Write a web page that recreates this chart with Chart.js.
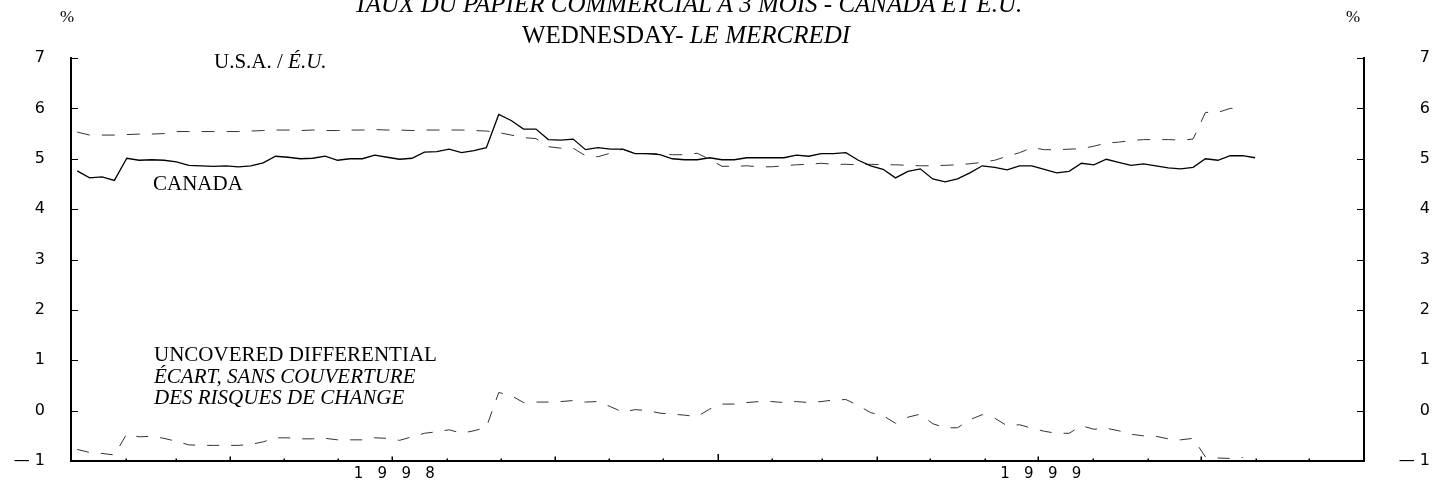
<!DOCTYPE html>
<html><head><meta charset="utf-8">
<script src="https://cdn.jsdelivr.net/npm/chart.js@4.4.1/dist/chart.umd.min.js"></script>
<style>
html,body{margin:0;padding:0;background:#fff;}
#wrap{position:relative;width:1439px;height:482px;overflow:hidden;background:#fff;}
canvas{position:absolute;left:0;top:0;}
.t{position:absolute;font-family:"Liberation Serif","Times New Roman",serif;color:#000;white-space:nowrap;line-height:1;}
</style></head><body>
<div id="wrap">
<canvas id="c" width="1439" height="482"></canvas>
<div class="t" style="font-size:25px;font-style:italic;top:-9px;left:0;width:1376px;text-align:center">TAUX DU PAPIER COMMERCIAL À 3 MOIS - CANADA ET É.U.</div>
<div class="t" style="font-size:25px;top:22px;left:0;width:1372px;text-align:center">WEDNESDAY- <i>LE MERCREDI</i></div>
<div class="t" style="font-size:17px;top:8px;left:60px">%</div>
<div class="t" style="font-size:17px;top:8px;left:1346px">%</div>
<div class="t" style="font-size:21px;top:51px;left:214px">U.S.A. / <i>É.U.</i></div>
<div class="t" style="font-size:21px;top:173px;left:153px">CANADA</div>
<div class="t" style="font-size:21px;top:344px;left:154px">UNCOVERED DIFFERENTIAL</div>
<div class="t" style="font-size:21px;font-style:italic;top:366px;left:154px">ÉCART, SANS COUVERTURE</div>
<div class="t" style="font-size:21px;font-style:italic;top:387px;left:154px">DES RISQUES DE CHANGE</div>
</div>
<script>
// Weekly (Wednesday) observations, first one in the first week of January 1998
const firstDay = 3.5;      // days after 1 Jan 1998 of the first observation
const weekStep = 7;
const canada = [4.76,4.62,4.64,4.57,5.01,4.97,4.98,4.97,4.94,4.87,
4.86,4.85,4.86,4.84,4.86,4.92,5.05,5.03,5.00,5.01,
5.05,4.97,5.00,5.00,5.07,5.03,4.99,5.01,5.13,5.14,
5.19,5.12,5.16,5.22,5.88,5.76,5.59,5.59,5.38,5.37,
5.39,5.18,5.22,5.19,5.19,5.10,5.10,5.08,5.00,4.98,
4.98,5.02,4.98,4.98,5.02,5.02,5.02,5.02,5.07,5.05,
5.10,5.10,5.12,4.97,4.86,4.79,4.62,4.75,4.80,4.60,
4.54,4.60,4.72,4.86,4.83,4.78,4.86,4.86,4.79,4.72,
4.75,4.91,4.88,4.99,4.93,4.87,4.90,4.86,4.82,4.80,
4.83,5.00,4.97,5.06,5.06,5.02];
const usa = [5.53,5.47,5.47,5.47,5.48,5.49,5.49,5.50,5.54,5.54,
5.54,5.54,5.54,5.54,5.55,5.56,5.57,5.57,5.56,5.57,
5.56,5.56,5.57,5.57,5.58,5.57,5.57,5.56,5.57,5.57,
5.57,5.57,5.56,5.55,5.52,5.47,5.42,5.40,5.24,5.21,
5.21,5.06,5.04,5.11,5.19,5.10,5.10,5.10,5.08,5.08,
5.11,4.99,4.85,4.85,4.86,4.84,4.84,4.86,4.88,4.89,
4.91,4.89,4.89,4.88,4.89,4.88,4.88,4.87,4.86,4.86,
4.87,4.88,4.90,4.93,4.97,5.05,5.12,5.22,5.18,5.18,
5.19,5.20,5.25,5.31,5.33,5.36,5.38,5.38,5.38,5.37,
5.39,5.92,5.92,6.00,5.99];
const differential = [-0.77,-0.83,-0.85,-0.88,-0.46,-0.52,-0.51,-0.55,-0.61,-0.68,
-0.69,-0.69,-0.69,-0.69,-0.67,-0.62,-0.54,-0.54,-0.56,-0.56,
-0.55,-0.58,-0.58,-0.58,-0.54,-0.55,-0.59,-0.52,-0.45,-0.42,
-0.38,-0.45,-0.40,-0.33,0.36,0.30,0.16,0.17,0.17,0.18,
0.20,0.17,0.18,0.08,-0.03,0.02,0.00,-0.05,-0.07,-0.09,
-0.12,0.03,0.13,0.13,0.16,0.18,0.18,0.16,0.18,0.16,
0.18,0.21,0.22,0.10,-0.04,-0.10,-0.25,-0.13,-0.07,-0.26,
-0.34,-0.34,-0.18,-0.08,-0.15,-0.30,-0.28,-0.35,-0.41,-0.45,
-0.45,-0.30,-0.37,-0.35,-0.40,-0.47,-0.50,-0.51,-0.56,-0.58,
-0.55,-0.92,-0.94,-0.95,-0.93];
// x axis: days since 1 Jan 1998; month boundaries and year label positions
const monthStarts = [0,31,59,90,120,151,181,212,243,273,304,334,365,396,424,455,485,516,546,577,608,638,669,699,730];
const yearLabelPos = [182.5, 547.5];
const yearLabels = ['1   9   9   8', '1   9   9   9'];
const yTicks = [-1,0,1,2,3,4,5,6,7];
const yLabels = ['\u2014 1','0','1','2','3','4','5','6','7'];

const toXY = arr => arr.map((v,i) => ({x: firstDay + weekStep*i, y: v}));

const tickPlugin = {
  id: 'inwardTicks',
  afterDraw(chart) {
    const {ctx, chartArea: a, scales: {x, y}} = chart;
    ctx.save();
    ctx.strokeStyle = '#000';
    ctx.lineWidth = 1.5;
    monthStarts.forEach((d, i) => {
      if (i === 0 || i === monthStarts.length - 1) return;
      const len = (i % 12 === 0) ? 7 : (i % 3 === 0 ? 4.5 : 2.5);
      const px = Math.round(x.getPixelForValue(d)) + 0.25;
      ctx.beginPath(); ctx.moveTo(px, a.bottom); ctx.lineTo(px, a.bottom - len); ctx.stroke();
    });
    ctx.lineWidth = 1;
    yTicks.forEach(v => {
      const py = Math.round(y.getPixelForValue(v)) + 0.5;
      ctx.beginPath(); ctx.moveTo(a.left, py); ctx.lineTo(a.left + 7, py); ctx.stroke();
      ctx.beginPath(); ctx.moveTo(a.right, py); ctx.lineTo(a.right - 7, py); ctx.stroke();
    });
    ctx.restore();
  }
};

const tickFont = {family: 'DejaVu Sans', size: 16};
const yCommon = {
  type: 'linear', min: -1, max: 7,
  grid: {display: false, drawTicks: true, tickLength: 18},
  border: {display: true, color: '#000', width: 2},
  afterBuildTicks: s => { s.ticks = yTicks.map(v => ({value: v})); },
  ticks: {color: '#000', font: tickFont, padding: 8, callback: v => yLabels[yTicks.indexOf(v)]}
};

new Chart(document.getElementById('c'), {
  type: 'line',
  data: {
    datasets: [
      {label: 'CANADA', data: toXY(canada), borderColor: '#000', borderWidth: 1.3, pointRadius: 0, tension: 0, yAxisID: 'y'},
      {label: 'U.S.A. / É.U.', data: toXY(usa), borderColor: '#333', borderWidth: 1, borderDash: [13, 12], pointRadius: 0, tension: 0, yAxisID: 'y'},
      {label: 'UNCOVERED DIFFERENTIAL', data: toXY(differential), borderColor: '#333', borderWidth: 1, borderDash: [12, 12], pointRadius: 0, tension: 0, yAxisID: 'y'}
    ]
  },
  options: {
    responsive: false, animation: false,
    layout: {padding: {top: 58, right: 9, bottom: 0, left: 0}},
    plugins: {legend: {display: false}, tooltip: {enabled: false}, title: {display: false}},
    scales: {
      x: {
        type: 'linear', min: 0, max: 730, position: 'bottom',
        grid: {display: false, drawTicks: false},
        border: {display: true, color: '#000', width: 2},
        afterBuildTicks: s => { s.ticks = yearLabelPos.map(v => ({value: v})); },
        afterFit: s => { s.height = 21; },
        ticks: {color: '#000', font: {family: 'DejaVu Sans', size: 15}, padding: 4, autoSkip: false, maxRotation: 0,
          callback: v => yearLabels[yearLabelPos.indexOf(v)]}
      },
      y: Object.assign({}, yCommon, {position: 'left', afterFit: s => { s.width = 71; },
        ticks: Object.assign({}, yCommon.ticks, {crossAlign: 'near'})}),
      y2: Object.assign({}, yCommon, {position: 'right', afterFit: s => { s.width = 66; },
        ticks: Object.assign({}, yCommon.ticks, {crossAlign: 'far'})})
    }
  },
  plugins: [tickPlugin]
});
</script>
</body></html>
